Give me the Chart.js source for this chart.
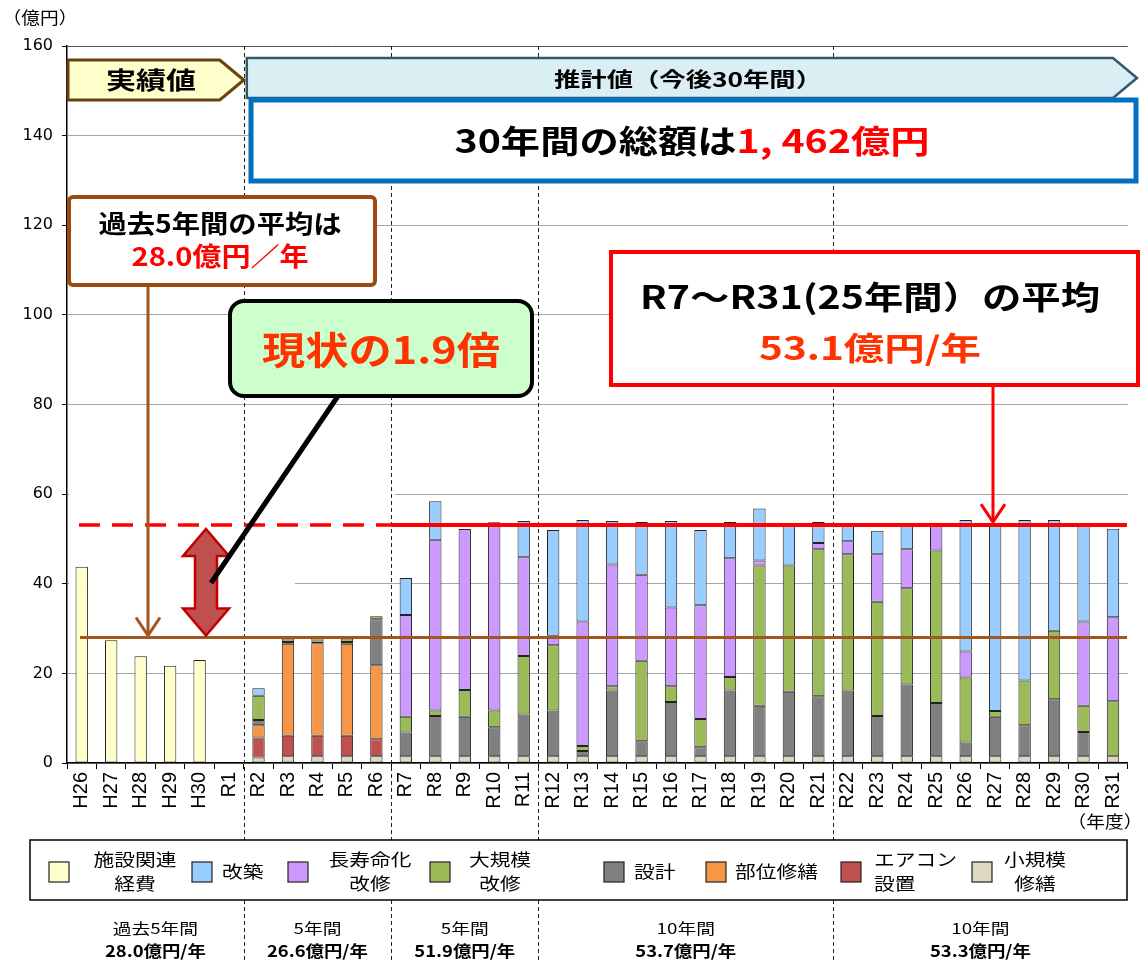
<!DOCTYPE html>
<html lang="ja">
<head>
<meta charset="utf-8">
<title>施設関連経費の推計</title>
<script src="https://cdn.jsdelivr.net/npm/chart.js@4.4.1/dist/chart.umd.min.js"></script>
<style>
  html, body { margin: 0; padding: 0; background: #fff; }
  #cost-chart { display: block; width: 1140px; height: 962px; }
</style>
</head>
<body>
<canvas id="cost-chart" width="1140" height="962"></canvas>
<script>
// Fiscal years (H26-H30 actual, R1 gap, R2-R31 estimate)
const years = ["H26", "H27", "H28", "H29", "H30", "R1",
  "R2", "R3", "R4", "R5", "R6",
  "R7", "R8", "R9", "R10", "R11",
  "R12", "R13", "R14", "R15", "R16", "R17", "R18", "R19", "R20", "R21",
  "R22", "R23", "R24", "R25", "R26", "R27", "R28", "R29", "R30", "R31"];

// Values in 億円, stacked bottom -> top
const facilityCost = [43.8, 27.4, 23.8, 21.7, 23.0, null,
  null, null, null, null, null, null, null, null, null, null,
  null, null, null, null, null, null, null, null, null, null,
  null, null, null, null, null, null, null, null, null, null];
const smallRepair = [null, null, null, null, null, null,
  1.2, 1.5, 1.5, 1.5, 1.5,
  1.5, 1.5, 1.5, 1.5, 1.5,
  1.5, 1.5, 1.5, 1.5, 1.5, 1.5, 1.5, 1.5, 1.5, 1.5,
  1.5, 1.5, 1.5, 1.5, 1.5, 1.5, 1.5, 1.5, 1.5, 1.5];
const airCon = [null, null, null, null, null, null,
  4.5, 4.6, 4.6, 4.6, 3.8,
  null, null, null, null, null, null, null, null, null, null,
  null, null, null, null, null, null, null, null, null, null,
  null, null, null, null, null];
const partRepair = [null, null, null, null, null, null,
  2.7, 20.5, 20.6, 20.5, 16.5,
  null, null, null, null, null, null, null, null, null, null,
  null, null, null, null, null, null, null, null, null, null,
  null, null, null, null, null];
const design = [null, null, null, null, null, null,
  1.2, 0.4, 0.4, 0.4, 10.3,
  5.3, 9.0, 8.8, 6.5, 9.3,
  10.2, 1.2, 14.7, 3.35, 12.1, 2.0, 14.7, 11.3, 14.4, 13.4,
  14.7, 9.0, 16.0, 11.9, 3.1, 8.8, 6.9, 12.75, 5.4, null];
const majorRenov = [null, null, null, null, null, null,
  5.4, 0.8, 0.8, 0.8, 0.65,
  3.5, 1.2, 6.0, 3.7, 13.1,
  14.6, 1.1, 0.9, 17.95, 3.5, 6.3, 3.0, 31.3, 28.2, 32.8,
  30.4, 25.5, 21.5, 34.0, 14.5, 1.3, 10.0, 15.25, 5.9, 12.3];
const lifeExtend = [null, null, null, null, null, null,
  null, null, null, null, null,
  22.7, 38.1, 35.9, 42.0, 22.0,
  2.1, 27.8, 27.2, 19.2, 17.6, 25.4, 26.5, 1.1, null, 1.4,
  2.9, 10.6, 8.7, 5.9, 5.8, null, null, null, 18.8, 18.7];
const rebuild = [null, null, null, null, null, null,
  1.7, null, null, null, null,
  8.3, 8.6, null, null, 8.1,
  23.6, 22.6, 9.7, 11.8, 19.3, 16.8, 8.1, 11.6, 9.3, 4.7,
  4.0, 5.2, 5.7, null, 29.3, 41.8, 35.8, 24.7, 21.7, 19.8];

// Averages shown as reference lines
const pastAverage = 28.0;
const futureAverage = 53.1;

// Period summaries below the legend
const periodStarts = [0, 6, 11, 16, 26];
const periodNames = ["過去5年間", "5年間", "5年間", "10年間", "10年間"];
const periodAverages = [28.0, 26.6, 51.9, 53.7, 53.3];

const FONT_JP = "'Noto Sans CJK JP', 'Noto Sans', sans-serif";

// Draw text, optionally stretched horizontally
function drawText(ctx, str, x, y, opt) {
  const o = Object.assign({ size: 16, weight: "normal", color: "#000", align: "center", sx: 1 }, opt);
  ctx.save();
  ctx.font = `${o.weight} ${o.size}px ${FONT_JP}`;
  ctx.fillStyle = o.color;
  ctx.textBaseline = "middle";
  ctx.textAlign = o.align;
  let sx = o.sx;
  if (o.width) sx = o.width / ctx.measureText(str).width;
  ctx.translate(x, y);
  ctx.scale(sx, 1);
  ctx.fillText(str, 0, 0);
  ctx.restore();
}

// Several coloured runs on one centred line, fitted to a width
function drawRuns(ctx, runs, cx, y, size, width) {
  ctx.save();
  ctx.font = `bold ${size}px ${FONT_JP}`;
  ctx.textBaseline = "middle";
  ctx.textAlign = "left";
  const raw = runs.reduce((s, r) => s + ctx.measureText(r.text).width, 0);
  const sx = width / raw;
  ctx.translate(cx - width / 2, y);
  ctx.scale(sx, 1);
  let x = 0;
  runs.forEach((r) => {
    ctx.fillStyle = r.color;
    ctx.fillText(r.text, x, 0);
    x += ctx.measureText(r.text).width;
  });
  ctx.restore();
}

function poly(ctx, pts, fill, stroke, lw) {
  ctx.beginPath();
  pts.forEach((p, i) => (i ? ctx.lineTo(p[0], p[1]) : ctx.moveTo(p[0], p[1])));
  ctx.closePath();
  if (fill) { ctx.fillStyle = fill; ctx.fill(); }
  if (stroke) { ctx.strokeStyle = stroke; ctx.lineWidth = lw; ctx.stroke(); }
}

function roundBox(ctx, x1, y1, x2, y2, r, fill, stroke, lw) {
  ctx.beginPath();
  ctx.roundRect(x1, y1, x2 - x1, y2 - y1, r);
  ctx.fillStyle = fill;
  ctx.fill();
  ctx.strokeStyle = stroke;
  ctx.lineWidth = lw;
  ctx.stroke();
}

function line(ctx, x1, y1, x2, y2, color, lw, dash) {
  ctx.save();
  ctx.beginPath();
  ctx.setLineDash(dash || []);
  ctx.moveTo(x1, y1);
  ctx.lineTo(x2, y2);
  ctx.strokeStyle = color;
  ctx.lineWidth = lw;
  ctx.stroke();
  ctx.restore();
}

// Open chevron arrow pointing down
function arrowDown(ctx, x, y1, y2, color, lw) {
  line(ctx, x, y1, x, y2, color, lw);
  ctx.save();
  ctx.beginPath();
  ctx.moveTo(x - 12, y2 - 18);
  ctx.lineTo(x, y2);
  ctx.lineTo(x + 12, y2 - 18);
  ctx.strokeStyle = color;
  ctx.lineWidth = lw;
  ctx.stroke();
  ctx.restore();
}

// Legend layout (swatch x, text x, alignment)
const legendLayout = [
  { sw: 49, tx: 135, align: "center" },
  { sw: 192, tx: 222, align: "left" },
  { sw: 288, tx: 370, align: "center" },
  { sw: 430, tx: 500, align: "center" },
  { sw: 604, tx: 634, align: "left" },
  { sw: 706, tx: 735, align: "left" },
  { sw: 841, tx: 874, align: "left" },
  { sw: 972, tx: 1035, align: "center" },
];

const overlayPlugin = {
  id: "overlay",
  beforeDatasetsDraw(chart) {
    const ctx = chart.ctx;
    const ys = chart.scales.y;
    // gridlines are cut away on the left part of the original
    ctx.save();
    ctx.fillStyle = "#fff";
    ctx.fillRect(69, ys.getPixelForValue(61), 226, ys.getPixelForValue(39) - ys.getPixelForValue(61));
    ctx.fillRect(295, ys.getPixelForValue(61), 100, 6);
    ctx.restore();
  },
  afterDraw(chart) {
    const ctx = chart.ctx;
    const xs = chart.scales.x;
    const ys = chart.scales.y;
    const area = chart.chartArea;
    const boundary = (i) => (xs.getPixelForValue(i - 1) + xs.getPixelForValue(i)) / 2;
    const yPast = ys.getPixelForValue(pastAverage);
    const yFuture = ys.getPixelForValue(futureAverage);

    // period separators
    periodStarts.slice(1).forEach((i) => {
      const bx = Math.round(boundary(i)) + 0.5;
      line(ctx, bx, area.top, bx, 962, "#222", 1, [4, 3]);
    });

    // average lines
    line(ctx, area.left + 13, yPast, 1127, yPast, "#A0561E", 3);
    const split = boundary(11);
    line(ctx, area.left + 12, yFuture, split, yFuture, "#FF0000", 3.5, [21, 12]);
    line(ctx, split, yFuture, 1127, yFuture, "#FF0000", 4);

    // arrows to the average lines
    arrowDown(ctx, 148, 285, yPast - 2, "#A0561E", 3);
    arrowDown(ctx, 993, 385, yFuture - 3, "#FF0000", 3);

    // double arrow between averages
    const ax = 206, t = yFuture + 4, b = yPast - 2;
    poly(ctx, [[ax, t], [ax + 23, t + 27], [ax + 11, t + 27], [ax + 11, b - 27], [ax + 23, b - 27],
      [ax, b], [ax - 23, b - 27], [ax - 11, b - 27], [ax - 11, t + 27], [ax - 23, t + 27]],
      "#C0504D", "#C00000", 2.5);

    // callout line and green box
    line(ctx, 338, 396, 211, 583, "#000", 5);
    roundBox(ctx, 230, 301, 532, 396, 14, "#CCFFCC", "#000", 4);
    drawText(ctx, "現状の1.9倍", 381, 350, { size: 38, weight: "bold", color: "#FF3300", width: 238 });

    // actual / estimate banners
    const tip = boundary(6);
    poly(ctx, [[area.left + 1, 60], [tip - 24, 60], [tip, 80], [tip - 24, 100], [area.left + 1, 100]],
      "#FFFFCC", "#6E3D10", 3);
    drawText(ctx, "実績値", 151, 80, { size: 24, weight: "bold", width: 90 });
    poly(ctx, [[tip + 3, 58], [1113, 58], [1137, 78], [1113, 98], [tip + 3, 98]],
      "#DAEEF3", "#31596B", 2.5);
    drawText(ctx, "推計値（今後30年間）", 688, 79, { size: 20, weight: "bold", width: 268 });

    // total box
    roundBox(ctx, 251, 100, 1136, 181, 0, "#fff", "#0070C0", 5);
    drawRuns(ctx, [{ text: "30年間の総額は", color: "#000" }, { text: "1, 462億円", color: "#FF0000" }],
      692, 141, 32, 475);

    // past average box
    roundBox(ctx, 69, 197, 375, 285, 4, "#fff", "#9C4A0E", 4);
    drawText(ctx, "過去5年間の平均は", 220, 223, { size: 25, weight: "bold", width: 243 });
    drawText(ctx, "28.0億円／年", 220, 256, { size: 26, weight: "bold", color: "#FF0000", width: 177 });

    // future average box
    roundBox(ctx, 611, 252, 1138, 385, 0, "#fff", "#FF0000", 4);
    drawText(ctx, "R7～R31(25年間）の平均", 870, 297, { size: 32, weight: "bold", width: 460 });
    drawText(ctx, "53.1億円/年", 870, 348, { size: 32, weight: "bold", color: "#FF3300", width: 222 });

    // unit labels
    drawText(ctx, "（億円）", 40, 18, { size: 17, sx: 1.1 });
    drawText(ctx, "（年度）", 1105, 822, { size: 17, sx: 1.1 });

    // legend
    ctx.save();
    ctx.fillStyle = "#fff";
    ctx.fillRect(30, 840, 1097, 60);
    ctx.strokeStyle = "#000";
    ctx.lineWidth = 1.5;
    ctx.strokeRect(30, 840, 1097, 60);
    ctx.restore();
    const legendOrder = [0, 7, 6, 5, 4, 3, 2, 1];
    legendOrder.forEach((di, k) => {
      const ds = chart.data.datasets[di];
      const lay = legendLayout[k];
      ctx.fillStyle = ds.backgroundColor;
      ctx.fillRect(lay.sw, 862, 20, 20);
      ctx.strokeStyle = "#222";
      ctx.lineWidth = 1.2;
      ctx.strokeRect(lay.sw, 862, 20, 20);
      const parts = ds.label.split("\n");
      if (parts.length === 1) {
        drawText(ctx, parts[0], lay.tx, 872, { size: 17, align: lay.align, sx: 1.22 });
      } else {
        drawText(ctx, parts[0], lay.tx, 860, { size: 17, align: lay.align, sx: 1.22 });
        drawText(ctx, parts[1], lay.tx, 884, { size: 17, align: lay.align, sx: 1.22 });
      }
    });

    // period summaries
    periodStarts.forEach((s, k) => {
      const e = k + 1 < periodStarts.length ? periodStarts[k + 1] : years.length;
      const left = s === 0 ? area.left : boundary(s);
      const right = e === years.length ? area.right : boundary(e);
      const cx = (left + right) / 2;
      drawText(ctx, periodNames[k], cx, 928, { size: 15, sx: 1.25 });
      drawText(ctx, periodAverages[k].toFixed(1) + "億円/年", cx, 951, { size: 16, weight: "bold", sx: 1.15 });
    });
  },
};

const barStyle = { borderColor: "#222", borderWidth: 1, borderSkipped: false, stack: "cost" };

const ctx = document.getElementById("cost-chart").getContext("2d");
const costChart = new Chart(ctx, {
  type: "bar",
  data: {
    labels: years,
    datasets: [
      { label: "施設関連\n経費", data: facilityCost, backgroundColor: "#FFFFCC", ...barStyle },
      { label: "小規模\n修繕", data: smallRepair, backgroundColor: "#DDD9C3", ...barStyle },
      { label: "エアコン\n設置", data: airCon, backgroundColor: "#C0504D", ...barStyle },
      { label: "部位修繕", data: partRepair, backgroundColor: "#F79646", ...barStyle },
      { label: "設計", data: design, backgroundColor: "#808080", ...barStyle },
      { label: "大規模\n改修", data: majorRenov, backgroundColor: "#9BBB59", ...barStyle },
      { label: "長寿命化\n改修", data: lifeExtend, backgroundColor: "#CC99FF", ...barStyle },
      { label: "改築", data: rebuild, backgroundColor: "#99CCFF", ...barStyle },
    ],
  },
  options: {
    responsive: false,
    animation: false,
    devicePixelRatio: 1,
    layout: { padding: { top: 46, right: 0, left: 0, bottom: 0 } },
    datasets: { bar: { barPercentage: 0.42, categoryPercentage: 1 } },
    plugins: { legend: { display: false }, tooltip: { enabled: false } },
    scales: {
      x: {
        stacked: true,
        grid: { offset: true, drawOnChartArea: false, drawTicks: true, tickLength: 6, color: "#000" },
        border: { color: "#000", width: 1.5 },
        ticks: {
          autoSkip: false,
          minRotation: 90,
          maxRotation: 90,
          padding: 3,
          color: "#000",
          font: { family: "'Liberation Sans Narrow', 'Liberation Sans', sans-serif", size: 20 },
        },
        afterFit: (scale) => { scale.height = 199; },
      },
      y: {
        stacked: true,
        min: 0,
        max: 160,
        ticks: { stepSize: 20, padding: 9, color: "#000", font: { family: "'DejaVu Sans', sans-serif", size: 16 } },
        grid: {
          color: (c) => (c.tick && c.tick.value === 160 ? "#555" : "#A6A6A6"),
          tickColor: "#000",
          tickLength: 5,
        },
        border: { color: "#000", width: 1.5 },
        afterFit: (scale) => { scale.width = 67; },
      },
    },
  },
  plugins: [overlayPlugin],
});
</script>
</body>
</html>
